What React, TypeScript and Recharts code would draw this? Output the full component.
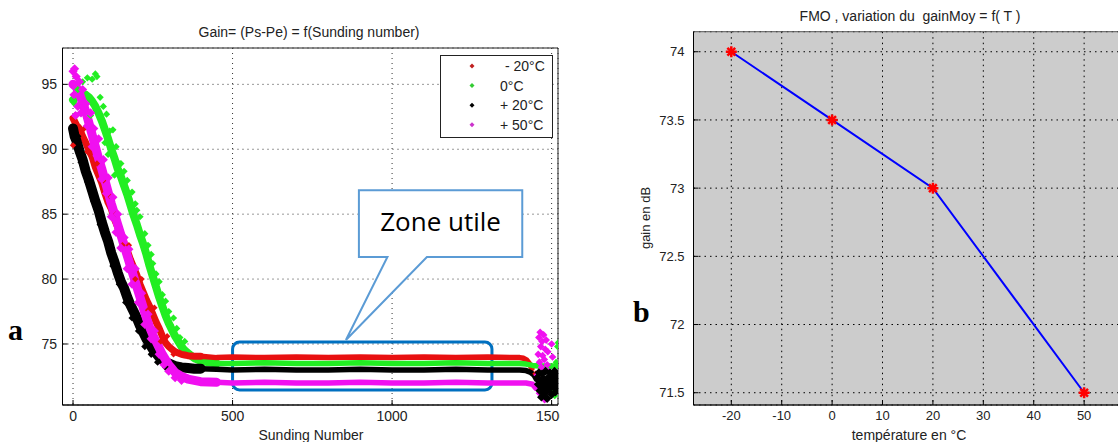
import React from "react";
import {
  CartesianGrid,
  Line,
  LineChart,
  ReferenceArea,
  Scatter,
  ScatterChart,
  XAxis,
  YAxis,
} from "recharts";

type Pt = [number, number];

// panel a : gain vs sounding number, one trace per temperature
// decay part (thick band)
const minus20Decay: Pt[] = [
  [0, 92.4], [10, 91.9], [20, 91.6], [30, 91.0], [40, 90.5], [50, 89.9], [60, 89.4], [70, 88.6],
  [80, 88.0], [90, 87.4], [100, 86.6], [110, 85.9], [120, 85.4], [130, 84.6], [140, 84.0],
  [150, 83.5], [160, 82.8], [170, 82.2], [180, 81.5], [190, 80.9], [200, 80.3], [210, 79.6],
  [220, 79.0], [230, 78.4], [240, 77.9], [250, 77.3], [260, 76.7], [270, 76.2], [280, 75.6],
  [290, 75.1], [300, 74.8], [310, 74.6], [320, 74.4], [330, 74.3], [340, 74.2], [350, 74.15],
  [360, 74.1], [380, 74.05], [400, 74.05],
];
const zeroDecay: Pt[] = [
  [0, 93.8], [10, 94.0], [20, 94.2], [30, 94.3], [40, 94.2], [50, 94.0], [60, 93.7], [70, 93.3],
  [80, 92.8], [90, 92.2], [100, 91.5], [110, 90.8], [120, 90.0], [130, 89.3], [140, 88.5],
  [150, 87.9], [160, 87.2], [170, 86.5], [180, 85.7], [190, 84.9], [200, 84.2], [210, 83.4],
  [220, 82.7], [230, 81.9], [240, 81.0], [250, 80.2], [260, 79.4], [270, 78.6], [280, 77.9],
  [290, 77.2], [300, 76.6], [310, 76.1], [320, 75.6], [330, 75.2], [340, 74.8], [350, 74.5],
  [360, 74.3], [370, 74.1], [380, 73.9], [390, 73.8], [400, 73.7], [420, 73.6], [450, 73.5],
];
const plus20Decay: Pt[] = [
  [0, 91.6], [5, 91.0], [10, 90.7], [20, 89.9], [30, 89.2], [40, 88.3], [50, 87.6], [60, 86.8],
  [70, 86.0], [80, 85.3], [90, 84.4], [100, 83.6], [110, 82.9], [120, 82.0], [130, 81.3],
  [140, 80.5], [150, 79.8], [160, 79.3], [170, 78.6], [180, 78.0], [190, 77.5], [200, 77.0],
  [210, 76.4], [220, 75.9], [230, 75.4], [240, 75.0], [250, 74.6], [260, 74.3], [270, 74.0],
  [280, 73.8], [290, 73.6], [300, 73.5], [320, 73.3], [340, 73.2], [360, 73.15], [380, 73.1],
  [400, 73.1],
];
const plus50Decay: Pt[] = [
  [0, 95.0], [10, 94.8], [20, 94.3], [30, 93.6], [40, 92.9], [50, 92.0], [60, 91.1], [70, 90.2],
  [80, 89.3], [90, 88.5], [100, 87.6], [110, 86.7], [120, 85.8], [130, 85.0], [140, 84.2],
  [150, 83.4], [160, 82.6], [170, 81.8], [180, 81.0], [190, 80.2], [200, 79.4], [210, 78.6],
  [220, 77.8], [230, 77.0], [240, 76.3], [250, 75.7], [260, 75.2], [270, 74.7], [280, 74.2],
  [290, 73.8], [300, 73.4], [310, 73.1], [320, 72.8], [340, 72.5], [360, 72.3], [380, 72.2],
  [400, 72.1], [450, 72.05],
];

// plateau part ("zone utile") and its end
const minus20Plateau: Pt[] = [
  [400, 74.05], [450, 73.95], [500, 74.0], [600, 73.95], [700, 74.0], [800, 73.95], [900, 74.0],
  [1000, 73.95], [1100, 74.0], [1200, 73.95], [1300, 74.0], [1400, 73.95], [1412, 73.9],
  [1422, 73.75], [1430, 73.5], [1438, 73.1],
];
const zeroPlateau: Pt[] = [
  [450, 73.5], [500, 73.5], [600, 73.55], [700, 73.5], [800, 73.5], [900, 73.55], [1000, 73.5],
  [1100, 73.5], [1200, 73.55], [1300, 73.5], [1400, 73.5], [1420, 73.45], [1440, 73.35],
  [1460, 73.3], [1480, 73.3], [1500, 73.3], [1520, 73.3],
];
const plus20Plateau: Pt[] = [
  [400, 73.1], [450, 73.05], [500, 73.0], [600, 73.05], [700, 73.0], [800, 73.0], [900, 73.05],
  [1000, 73.0], [1100, 73.0], [1200, 73.05], [1300, 73.0], [1400, 73.0], [1420, 72.95],
  [1435, 72.8], [1445, 72.6], [1452, 72.3],
];
const plus50Plateau: Pt[] = [
  [450, 72.05], [500, 72.0], [600, 72.05], [700, 72.0], [800, 72.0], [900, 72.05], [1000, 72.0],
  [1100, 72.0], [1200, 72.05], [1300, 72.0], [1420, 72.0], [1440, 71.9], [1450, 71.6],
];

// scattered points around the decay bands
const minus20Cloud: Pt[] = [
  [0, 90.3], [5, 92.6], [35, 91.6], [45, 89.8], [75, 88.9], [95, 87.6], [115, 86.4], [135, 85.0],
  [155, 82.6], [175, 82.6], [195, 80.0], [215, 80.0], [235, 77.6], [255, 77.8], [275, 75.2],
  [295, 75.6], [315, 74.2],
];
const zeroCloud: Pt[] = [
  [5, 93.5], [15, 94.6], [30, 95.2], [45, 95.5], [60, 95.4], [70, 95.8], [75, 95.6], [55, 92.6],
  [85, 94.0], [95, 93.3], [105, 92.7], [115, 91.4], [125, 91.5], [100, 90.5], [135, 90.2],
  [140, 89.0], [150, 88.9], [160, 88.3], [170, 87.6], [175, 86.2], [185, 86.7], [195, 85.8],
  [200, 85.3], [210, 84.8], [215, 83.2], [225, 83.5], [235, 82.6], [245, 81.9], [250, 81.2],
  [260, 80.4], [270, 79.8], [280, 78.8], [290, 78.3], [300, 77.5], [305, 76.5], [315, 77.0],
  [325, 76.2], [335, 75.5], [350, 75.2], [130, 88.0], [110, 89.6],
];
const plus20Cloud: Pt[] = [
  [5, 90.4], [15, 91.0], [25, 89.0], [45, 87.5], [65, 86.0], [85, 84.2], [105, 83.0], [125, 81.0],
  [145, 79.6], [165, 78.2], [185, 77.0], [205, 76.0], [225, 74.8], [245, 74.2], [265, 73.6],
  [290, 73.2],
];
const plus50Cloud: Pt[] = [
  [0, 96.0], [5, 96.2], [10, 95.6], [3, 94.2], [8, 92.6], [15, 93.3], [20, 95.2], [25, 92.8],
  [30, 94.6], [40, 93.5], [45, 91.8], [55, 92.8], [60, 90.2], [65, 91.6], [75, 89.5], [80, 90.8],
  [90, 87.7], [95, 89.2], [105, 86.6], [110, 87.8], [120, 84.8], [125, 86.3], [135, 83.6],
  [140, 85.0], [150, 82.4], [160, 83.2], [170, 80.8], [175, 82.3], [185, 79.6], [195, 80.8],
  [205, 78.2], [215, 78.9], [225, 76.5], [235, 77.3], [245, 75.4], [255, 76.0], [270, 74.2],
  [285, 73.4], [300, 72.9], [320, 72.4], [340, 72.2],
];

// scattered points at the end of the runs (~1450-1520)
const minus20Tail: Pt[] = [[1450, 72.7], [1458, 72.4], [1464, 72.0], [1470, 71.5]];
const zeroTail: Pt[] = [[1505, 71.3], [1510, 71.0], [1514, 73.6], [1518, 74.8], [1520, 75.1]];
const plus50Tail: Pt[] = [
  [1455, 72.6], [1458, 74.2], [1460, 75.5], [1462, 73.6], [1464, 75.9], [1466, 74.8], [1468, 73.2],
  [1470, 75.2], [1472, 74.1], [1475, 75.7], [1477, 73.8], [1480, 74.6], [1483, 75.3], [1486, 73.4],
  [1488, 74.4], [1490, 72.9], [1462, 71.2], [1470, 70.9], [1478, 70.7], [1494, 71.3], [1500, 75.0],
  [1503, 74.0],
];
const plus20Tail: Pt[] = [
  [1455, 72.4], [1458, 71.9], [1460, 72.8], [1463, 71.4], [1466, 72.2], [1468, 70.9], [1470, 72.7],
  [1473, 71.7], [1476, 72.3], [1478, 71.2], [1481, 72.9], [1484, 71.8], [1486, 70.8], [1489, 72.4],
  [1492, 71.5], [1495, 72.8], [1497, 71.9], [1500, 71.1], [1503, 72.5], [1506, 71.7], [1509, 72.9],
  [1512, 71.3], [1515, 72.2], [1518, 71.8], [1521, 72.6], [1523, 71.5], [1480, 72.0], [1490, 72.1],
  [1500, 72.0], [1510, 72.1], [1485, 71.4], [1495, 71.6], [1505, 72.3], [1470, 71.9],
];

const legendLabels = ["- 20°C", "0°C", "+ 20°C", "+ 50°C"];
const legendColors = ["#c02020", "#33cc33", "#000000", "#cc33cc"];
const RED = "#e81010";
const GREEN = "#22ee22";
const BLACK = "#000000";
const MAGENTA = "#f010f0";

const leftXTicks = [0, 500, 1000, 1500];
const leftYTicks = [75, 80, 85, 90, 95];

// panel b : mean gain vs temperature
const temperatures = [-20, 0, 20, 50];
const gainMoy = [74, 73.5, 73, 71.5];
const rightXTicks = [-20, -10, 0, 10, 20, 30, 40, 50];
const rightYTicks = [71.5, 72, 72.5, 73, 73.5, 74];

const gainData = temperatures.map((t, i) => ({ t, gain: gainMoy[i] }));
const toXY = (pts: Pt[]) => pts.map(([x, y]) => ({ x, y }));

const font = "'Liberation Sans', Arial, sans-serif";
const tickStyleA = { fontSize: 14, fill: "#222", fontFamily: font };
const tickStyleB = { fontSize: 13, fill: "#222", fontFamily: font };

const diamond = (r: number) => (props: any) => {
  const { cx, cy, fill } = props;
  if (cx == null || cy == null) return <g />;
  return <path d={`M${cx},${cy - r}L${cx + r},${cy}L${cx},${cy + r}L${cx - r},${cy}Z`} fill={fill} />;
};
const noMarker = () => <g />;

function Star({ cx, cy }: { cx?: number; cy?: number }) {
  if (cx == null || cy == null) return <g />;
  const r = 5.5;
  const d = r * 0.707;
  return (
    <g stroke="#ff0000" strokeWidth={2.5}>
      <line x1={cx - r} y1={cy} x2={cx + r} y2={cy} />
      <line x1={cx} y1={cy - r} x2={cx} y2={cy + r} />
      <line x1={cx - d} y1={cy - d} x2={cx + d} y2={cy + d} />
      <line x1={cx - d} y1={cy + d} x2={cx + d} y2={cy - d} />
    </g>
  );
}

const ZoneBox = (props: any) => {
  const { x, y, width, height } = props;
  return <rect x={x} y={y} width={width} height={height} rx={7} fill="none" stroke="#0070c0" strokeWidth={3} />;
};

const Callout = (props: any) => {
  const { x, y, width, height } = props;
  const b = y + height;
  const d = `M${x},${y}H${x + width}V${b}H${x + 68}L${x - 13},${b + 83}L${x + 28.5},${b}H${x}Z`;
  return (
    <g>
      <path d={d} fill="#fff" stroke="#5b9bd5" strokeWidth={2} />
      <text x={x + width / 2} y={y + height / 2 + 7} textAnchor="middle" fontSize={26} fontFamily="'Open Sans', sans-serif" fill="#000">
        Zone utile
      </text>
    </g>
  );
};

const bands: { pts: Pt[]; color: string; width: number }[] = [
  { pts: zeroDecay, color: GREEN, width: 8 },
  { pts: minus20Decay, color: RED, width: 7 },
  { pts: plus20Decay, color: BLACK, width: 10 },
  { pts: plus50Decay, color: MAGENTA, width: 9 },
  { pts: minus20Plateau, color: RED, width: 5.5 },
  { pts: zeroPlateau, color: GREEN, width: 5.5 },
  { pts: plus20Plateau, color: BLACK, width: 5.5 },
  { pts: plus50Plateau, color: MAGENTA, width: 5.5 },
];
const clouds: { pts: Pt[]; color: string; r: number }[] = [
  { pts: zeroCloud, color: GREEN, r: 3.6 },
  { pts: plus20Cloud, color: BLACK, r: 3.6 },
  { pts: minus20Cloud, color: RED, r: 3.2 },
  { pts: plus50Cloud, color: MAGENTA, r: 4.6 },
  { pts: minus20Tail, color: RED, r: 3.4 },
  { pts: zeroTail, color: GREEN, r: 3.4 },
  { pts: plus50Tail, color: MAGENTA, r: 3.8 },
  { pts: plus20Tail, color: BLACK, r: 4.4 },
];

export default function App() {
  return (
    <div style={{ position: "absolute", left: 0, top: 0, width: 1118, height: 442, background: "#fff", overflow: "hidden" }}>
      <div style={{ position: "absolute", left: 0, top: 0 }}>
        <ScatterChart width={560} height={442} margin={{ top: 48, right: 2, bottom: 0, left: 22.5 }}>
          <CartesianGrid stroke="#333" strokeDasharray="1 4" />
          <XAxis
            type="number"
            dataKey="x"
            domain={[-33, 1520]}
            ticks={leftXTicks}
            allowDataOverflow
            interval={0}
            height={37}
            tickSize={-5}
            tickMargin={11}
            tick={tickStyleA}
            axisLine={{ stroke: "#000" }}
            tickLine={{ stroke: "#000" }}
          />
          <YAxis
            type="number"
            dataKey="y"
            domain={[70.3, 97.8]}
            ticks={leftYTicks}
            allowDataOverflow
            interval={0}
            width={40}
            tickSize={-5}
            tickMargin={10.5}
            tick={tickStyleA}
            axisLine={{ stroke: "#000" }}
            tickLine={{ stroke: "#000" }}
          />
          {bands.map((b, i) => (
            <Scatter
              key={`b${i}`}
              data={toXY(b.pts)}
              fill={b.color}
              line={{ stroke: b.color, strokeWidth: b.width, strokeLinejoin: "round", strokeLinecap: "round" }}
              shape={noMarker}
              isAnimationActive={false}
            />
          ))}
          {clouds.map((c, i) => (
            <Scatter key={`c${i}`} data={toXY(c.pts)} fill={c.color} shape={diamond(c.r)} isAnimationActive={false} />
          ))}
          <ReferenceArea x1={500} x2={1313} y1={71.46} y2={75.15} ifOverflow="visible" shape={ZoneBox} />
          <ReferenceArea x1={896} x2={1408} y1={81.7} y2={86.85} ifOverflow="visible" shape={Callout} />
          <ReferenceArea x1={-33} x2={1520} y1={70.3} y2={97.8} ifOverflow="visible" fill="none" stroke="#222" strokeWidth={1} />
        </ScatterChart>
      </div>

      <div style={{ position: "absolute", left: 560, top: 0, width: 558, height: 442, overflow: "hidden" }}>
        <LineChart width={570} height={442} data={gainData} margin={{ top: 31.7, right: 0, bottom: 0, left: 73.5 }}>
          <CartesianGrid fill="#cccccc" stroke="#000" strokeDasharray="1.5 4" />
          <XAxis
            type="number"
            dataKey="t"
            domain={[-27.5, 59.1]}
            ticks={rightXTicks}
            allowDataOverflow
            interval={0}
            height={37}
            tickSize={-5}
            tickMargin={11}
            tick={tickStyleB}
            axisLine={{ stroke: "#000" }}
            tickLine={{ stroke: "#000" }}
          />
          <YAxis
            type="number"
            domain={[71.41, 74.147]}
            ticks={rightYTicks}
            allowDataOverflow
            interval={0}
            width={60}
            tickSize={-5}
            tickMargin={14}
            tick={tickStyleB}
            axisLine={{ stroke: "#000" }}
            tickLine={{ stroke: "#000" }}
          />
          <ReferenceArea x1={-27.5} x2={59.1} y1={71.41} y2={74.147} ifOverflow="visible" fill="none" stroke="#555" strokeWidth={1} />
          <Line
            type="linear"
            dataKey="gain"
            stroke="#0000ff"
            strokeWidth={2}
            dot={(p: any) => <Star key={`d${p.index}`} cx={p.cx} cy={p.cy} />}
            isAnimationActive={false}
          />
        </LineChart>
      </div>

      <svg width={1118} height={442} style={{ position: "absolute", left: 0, top: 0, pointerEvents: "none" }}>
        <g fontFamily={font} fill="#222">
          <text x={309} y={36.5} fontSize={14} textAnchor="middle">Gain= (Ps-Pe) = f(Sunding number)</text>
          <text x={311} y={440} fontSize={14} textAnchor="middle">Sunding Number</text>
          <text x={910} y={20.5} fontSize={14} textAnchor="middle" style={{ whiteSpace: "pre" }}>
            {"FMO , variation du  gainMoy = f( T )"}
          </text>
          <text x={909} y={440} fontSize={14} textAnchor="middle">température en °C</text>
          <text x={649.5} y={218} fontSize={13} textAnchor="middle" transform="rotate(-90 649.5 218)">gain en dB</text>
        </g>
        <g fontFamily="'Liberation Serif', 'Times New Roman', serif" fontWeight="bold" fontSize={30} fill="#000">
          <text x={8} y={340}>a</text>
          <text x={633} y={322}>b</text>
        </g>
        <rect x={440.5} y={55.5} width={112} height={82} fill="#fff" stroke="#222" strokeWidth={1} />
        {legendLabels.map((label, i) => {
          const cy = 66 + i * 19.6;
          return (
            <g key={label}>
              <path d={`M472,${cy - 2.5}L474.5,${cy}L472,${cy + 2.5}L469.5,${cy}Z`} fill={legendColors[i]} />
              <text x={i === 0 ? 505 : 500} y={cy + 5} fontSize={14} fontFamily={font} fill="#222">
                {label}
              </text>
            </g>
          );
        })}
      </svg>
    </div>
  );
}
